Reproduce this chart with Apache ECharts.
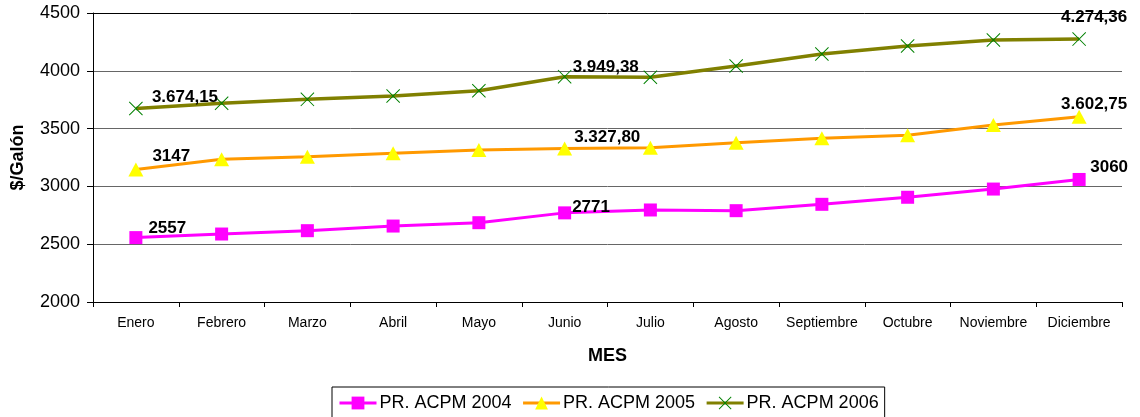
<!DOCTYPE html>
<html>
<head>
<meta charset="utf-8">
<script src="https://cdn.jsdelivr.net/npm/echarts@6/dist/echarts.min.js"></script>
<style>
  body{ margin:0; background:#fff; }
  #chart{ width:1140px; height:417px; }
</style>
</head>
<body>
<div id="chart"></div>
<script>
  var meses = ['Enero','Febrero','Marzo','Abril','Mayo','Junio','Julio','Agosto','Septiembre','Octubre','Noviembre','Diciembre']
  var acpm2004 = [2557, 2588, 2617, 2657, 2686, 2771, 2796, 2790, 2845, 2906, 2977, 3060]
  var acpm2005 = [3147, 3234, 3257, 3286, 3315, 3327.80, 3335, 3378, 3416, 3442, 3531, 3602.75]
  var acpm2006 = [3674.15, 3719, 3753, 3782, 3828, 3949.38, 3944, 4042, 4145, 4215, 4266, 4274.36]
  var yTicks = [2000, 2500, 3000, 3500, 4000, 4500]
  // puntos con etiqueta
  var conEtiqueta = [0, 5, 11]

  function formato(v){
    if (Math.round(v) === v) return String(v)
    var p = v.toFixed(2).split('.')
    return p[0].replace(/\B(?=(\d{3})+(?!\d))/g, '.') + ',' + p[1]
  }

  // posicion de cada etiqueta: [Enero, Junio, Diciembre]
  function datos(vals, pos){
    return vals.map(function(v, i){
      var k = conEtiqueta.indexOf(i)
      if (k < 0) return v
      return { value: v, label: { show: true, position: pos[k][0], offset: pos[k][1] } }
    })
  }

  var etiqueta = {
    show: false,
    color: '#000',
    fontFamily: 'Liberation Sans, Arial, sans-serif',
    fontSize: 17,
    fontWeight: 'bold',
    formatter: function(p){ return formato(p.value) }
  }

  var cruz = 'path://M0,0.5L0.5,0L10,9.5L9.5,10Z M9.5,0L10,0.5L0.5,10L0,9.5Z'

  var chart = echarts.init(document.getElementById('chart'))
  var option = {
    animation: false,
    textStyle: { fontFamily: 'Liberation Sans, Arial, sans-serif' },
    grid: { left: 93, right: 18, top: 13, bottom: 115 },
    legend: {
      top: 387,
      left: 332,
      padding: [7, 6, 12, 6],
      itemGap: 10,
      itemWidth: 37,
      itemHeight: 16,
      borderColor: '#000',
      borderWidth: 1,
      lineStyle: { width: 3 },
      textStyle: { color: '#000', fontSize: 18, padding: [0, 0, 0, -2] },
      data: ['PR. ACPM 2004', 'PR. ACPM 2005', 'PR. ACPM 2006']
    },
    xAxis: {
      type: 'category',
      data: meses,
      boundaryGap: true,
      name: 'MES',
      nameLocation: 'middle',
      nameGap: 45,
      nameTextStyle: { color: '#000', fontSize: 18, fontWeight: 'bold' },
      axisLine: { lineStyle: { color: '#000', width: 1 } },
      axisTick: { show: true, length: 5, lineStyle: { color: '#000' } },
      axisLabel: { color: '#000', fontSize: 14, margin: 14, interval: 0 }
    },
    yAxis: {
      type: 'value',
      min: yTicks[0],
      max: yTicks[yTicks.length - 1],
      interval: 500,
      name: '$/Galón',
      nameLocation: 'middle',
      nameGap: 66,
      nameTextStyle: { color: '#000', fontSize: 18, fontWeight: 'bold' },
      axisLine: { show: true, lineStyle: { color: '#000', width: 1 } },
      axisTick: { show: true, length: 6, lineStyle: { color: '#000' } },
      axisLabel: { color: '#000', fontSize: 18, margin: 13, formatter: function(v){ return String(v) } },
      splitLine: { lineStyle: { color: ['#666', '#666', '#666', '#666', '#666', '#000'], width: 1 } }
    },
    series: [
      {
        name: 'PR. ACPM 2004',
        type: 'line',
        data: datos(acpm2004, [['right', [1, -9]], ['right', [-4, -6]], ['top', [30, 8]]]),
        symbol: 'rect',
        symbolSize: 13,
        lineStyle: { color: '#ff00ff', width: 3 },
        itemStyle: { color: '#ff00ff' },
        label: etiqueta
      },
      {
        name: 'PR. ACPM 2005',
        type: 'line',
        data: datos(acpm2005, [['right', [4, -13]], ['right', [-3, -11]], ['top', [15, 8]]]),
        symbol: 'triangle',
        symbolSize: [15, 14],
        lineStyle: { color: '#ff9900', width: 3 },
        itemStyle: { color: '#ffff00' },
        label: etiqueta
      },
      {
        name: 'PR. ACPM 2006',
        type: 'line',
        data: datos(acpm2006, [['right', [4, -11]], ['right', [-4, -9]], ['top', [15, -1]]]),
        symbol: cruz,
        symbolSize: 14,
        lineStyle: { color: '#808000', width: 3.5 },
        itemStyle: { color: '#008000' },
        label: etiqueta
      }
    ]
  }
  chart.setOption(option)
</script>
</body>
</html>
